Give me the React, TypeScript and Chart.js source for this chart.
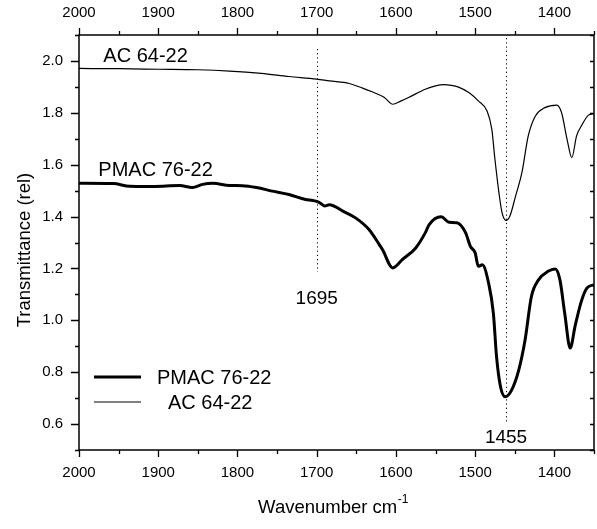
import React, { useEffect, useRef } from 'react';
import { Chart, registerables } from 'chart.js';

Chart.register(...registerables);

// ---- data ----
const acWavenumbers = [2000, 1950, 1900, 1850, 1810, 1770, 1735, 1700, 1684, 1659, 1642, 1630, 1615, 1604, 1594, 1584, 1563, 1550, 1540, 1530, 1521, 1508, 1496, 1485, 1479, 1475, 1470, 1466, 1461, 1456, 1449, 1441, 1433, 1424, 1412, 1397, 1391, 1384, 1378, 1372, 1366, 1357, 1350];
const acValues = [1.971, 1.970, 1.968, 1.966, 1.961, 1.952, 1.940, 1.930, 1.923, 1.913, 1.895, 1.881, 1.860, 1.833, 1.845, 1.859, 1.891, 1.904, 1.909, 1.906, 1.899, 1.878, 1.846, 1.807, 1.737, 1.620, 1.492, 1.414, 1.385, 1.403, 1.479, 1.569, 1.711, 1.788, 1.820, 1.830, 1.801, 1.698, 1.627, 1.711, 1.749, 1.791, 1.797];

const pmacWavenumbers = [2000, 1957, 1936, 1915, 1894, 1873, 1857, 1844, 1831, 1810, 1794, 1776, 1756, 1735, 1714, 1705, 1697, 1690, 1684, 1667, 1651, 1634, 1621, 1617, 1604, 1592, 1575, 1563, 1558, 1543, 1533, 1523, 1512, 1506, 1500, 1496, 1491, 1483, 1477, 1473, 1468, 1462, 1454, 1445, 1437, 1429, 1420, 1408, 1399, 1393, 1387, 1380, 1374, 1366, 1359, 1350];
const pmacValues = [1.528, 1.527, 1.517, 1.516, 1.517, 1.520, 1.512, 1.524, 1.528, 1.520, 1.519, 1.512, 1.498, 1.485, 1.466, 1.462, 1.455, 1.441, 1.446, 1.421, 1.395, 1.350, 1.292, 1.273, 1.202, 1.234, 1.279, 1.337, 1.369, 1.399, 1.378, 1.376, 1.337, 1.285, 1.260, 1.208, 1.214, 1.143, 1.027, 0.860, 0.744, 0.705, 0.731, 0.808, 0.924, 1.092, 1.156, 1.189, 1.198, 1.156, 1.028, 0.893, 0.976, 1.073, 1.124, 1.137];

const seriesNames = ['PMAC 76-22', 'AC 64-22'];
const xTickValues = [2000, 1900, 1800, 1700, 1600, 1500, 1400];
const yTickValues = [0.6, 0.8, 1.0, 1.2, 1.4, 1.6, 1.8, 2.0];

// marker lines: wavenumber, label, y-range of the dotted line, label y
const markerAt = [1700, 1461];
const markerLabels = ['1695', '1455'];
const markerTop = [2.046, 2.088];
const markerBottom = [1.186, 0.604];
const markerLabelY = [1.09, 0.552];

// curve labels: text, wavenumber of left edge, y value of centre
const curveLabelText = ['AC 64-22', 'PMAC 76-22'];
const curveLabelX = [1969.3, 1975.6];
const curveLabelY = [2.022, 1.583];

const FONT = '"Liberation Sans", Arial, Helvetica, sans-serif';

const decorPlugin = {
  id: 'decor',
  afterDatasetsDraw(chart: any) {
    const { ctx, chartArea: a, scales } = chart;
    const xs = scales.x;
    const ys = scales.y;
    ctx.save();
    ctx.strokeStyle = '#000';
    ctx.fillStyle = '#000';

    // frame
    ctx.lineWidth = 1.5;
    ctx.strokeRect(a.left, a.top, a.right - a.left, a.bottom - a.top);

    // ticks
    ctx.lineWidth = 1.3;
    ctx.beginPath();
    for (let w = 2000; w >= 1350; w -= 50) {
      const px = Math.round(xs.getPixelForValue(w)) + 0.5;
      const len = w % 100 === 0 ? 7 : 4;
      ctx.moveTo(px, a.bottom);
      ctx.lineTo(px, a.bottom + len);
      ctx.moveTo(px, a.top);
      ctx.lineTo(px, a.top - len);
    }
    for (let i = 5; i <= 21; i++) {
      const py = Math.round(ys.getPixelForValue(i / 10)) + 0.5;
      const len = i % 2 === 0 ? 8 : 4;
      ctx.moveTo(a.left, py);
      ctx.lineTo(a.left - len, py);
      ctx.moveTo(a.right, py);
      ctx.lineTo(a.right - 4, py);
    }
    ctx.stroke();

    // dotted marker lines
    ctx.lineWidth = 1;
    ctx.setLineDash([1.2, 3]);
    for (let i = 0; i < markerAt.length; i++) {
      const px = Math.round(xs.getPixelForValue(markerAt[i])) + 0.5;
      ctx.beginPath();
      ctx.moveTo(px, ys.getPixelForValue(markerTop[i]));
      ctx.lineTo(px, ys.getPixelForValue(markerBottom[i]));
      ctx.stroke();
    }
    ctx.setLineDash([]);

    const drawCentered = (text: string, cx: number, cy: number, size: number, align: CanvasTextAlign) => {
      ctx.font = `${size}px ${FONT}`;
      ctx.textAlign = align;
      ctx.textBaseline = 'alphabetic';
      ctx.fillText(text, cx, cy + size * 0.716 / 2);
    };

    for (let i = 0; i < markerAt.length; i++) {
      drawCentered(markerLabels[i], xs.getPixelForValue(markerAt[i]), ys.getPixelForValue(markerLabelY[i]), 19, 'center');
    }
    for (let i = 0; i < curveLabelText.length; i++) {
      drawCentered(curveLabelText[i], xs.getPixelForValue(curveLabelX[i]), ys.getPixelForValue(curveLabelY[i]), 20, 'left');
    }

    // legend
    const ds = chart.data.datasets;
    const legendRows = [
      { y: 377, textX: 157, ds: ds[0] },
      { y: 402, textX: 168, ds: ds[1] },
    ];
    for (const r of legendRows) {
      ctx.beginPath();
      ctx.lineWidth = r.ds.borderWidth;
      ctx.strokeStyle = r.ds.borderColor;
      ctx.moveTo(94, r.y);
      ctx.lineTo(141, r.y);
      ctx.stroke();
      drawCentered(r.ds.label, r.textX, r.y, 20, 'left');
    }

    // axis titles
    ctx.fillStyle = '#000';
    const yTitleSize = 18.5;
    ctx.save();
    ctx.translate(23, 250);
    ctx.rotate(-Math.PI / 2);
    drawCentered('Transmittance (rel)', 0, 0, yTitleSize, 'center');
    ctx.restore();

    const main = 'Wavenumber cm';
    const sup = '-1';
    ctx.font = `18.5px ${FONT}`;
    const wMain = ctx.measureText(main).width;
    ctx.font = `12px ${FONT}`;
    const wSup = ctx.measureText(sup).width;
    const startX = 333 - (wMain + wSup) / 2;
    ctx.textAlign = 'left';
    ctx.textBaseline = 'alphabetic';
    ctx.font = `18.5px ${FONT}`;
    ctx.fillText(main, startX, 513);
    ctx.font = `12px ${FONT}`;
    ctx.fillText(sup, startX + wMain + 0.5, 503);

    ctx.restore();
  },
};

export default function App() {
  const canvasRef = useRef<HTMLCanvasElement | null>(null);

  useEffect(() => {
    const canvas = canvasRef.current;
    if (!canvas) return;
    const tickFont = { family: FONT, size: 15 };
    const xCommon = {
      type: 'linear' as const,
      min: 1350,
      max: 2000,
      reverse: true,
      grid: { display: false, drawTicks: false, tickLength: 0 },
      border: { display: false },
      afterBuildTicks: (s: any) => {
        s.ticks = xTickValues.map((v) => ({ value: v }));
      },
    };
    const chart = new Chart(canvas, {
      type: 'line',
      data: {
        datasets: [
          {
            label: seriesNames[0],
            data: pmacWavenumbers.map((w, i) => ({ x: w, y: pmacValues[i] })),
            borderColor: '#000',
            borderWidth: 3,
            pointRadius: 0,
            cubicInterpolationMode: 'monotone',
            borderJoinStyle: 'round',
            xAxisID: 'x',
            yAxisID: 'y',
          },
          {
            label: seriesNames[1],
            data: acWavenumbers.map((w, i) => ({ x: w, y: acValues[i] })),
            borderColor: '#000',
            borderWidth: 1.2,
            pointRadius: 0,
            cubicInterpolationMode: 'monotone',
            borderJoinStyle: 'round',
            xAxisID: 'x',
            yAxisID: 'y',
          },
        ],
      },
      options: {
        animation: false,
        responsive: false,
        maintainAspectRatio: false,
        devicePixelRatio: 1,
        layout: { padding: { left: 0, right: 3, top: 0, bottom: 0 } },
        plugins: { legend: { display: false }, tooltip: { enabled: false } },
        scales: {
          x: {
            ...xCommon,
            position: 'bottom',
            ticks: { color: '#000', font: tickFont, padding: 13.5, maxRotation: 0, autoSkip: false, callback: (v: any) => String(v) },
            afterFit: (s: any) => { s.height = 79; },
          },
          x2: {
            ...xCommon,
            position: 'top',
            ticks: { color: '#000', font: tickFont, padding: 13, maxRotation: 0, autoSkip: false, callback: (v: any) => String(v) },
            afterFit: (s: any) => { s.height = 35; },
          },
          y: {
            type: 'linear',
            position: 'left',
            min: 0.5,
            max: 2.1,
            grid: { display: false, drawTicks: false, tickLength: 0 },
            border: { display: false },
            afterBuildTicks: (s: any) => {
              s.ticks = yTickValues.map((v) => ({ value: v }));
            },
            ticks: { color: '#000', font: tickFont, padding: 16, callback: (v: any) => Number(v).toFixed(1) },
            afterFit: (s: any) => { s.width = 79; },
          },
        },
      },
      plugins: [decorPlugin],
    } as any);
    return () => chart.destroy();
  }, []);

  return (
    <div style={{ position: 'absolute', left: 0, top: 0, width: 597, height: 529, background: '#fff' }}>
      <canvas ref={canvasRef} width={597} height={529} style={{ display: 'block', width: 597, height: 529 }} />
    </div>
  );
}
